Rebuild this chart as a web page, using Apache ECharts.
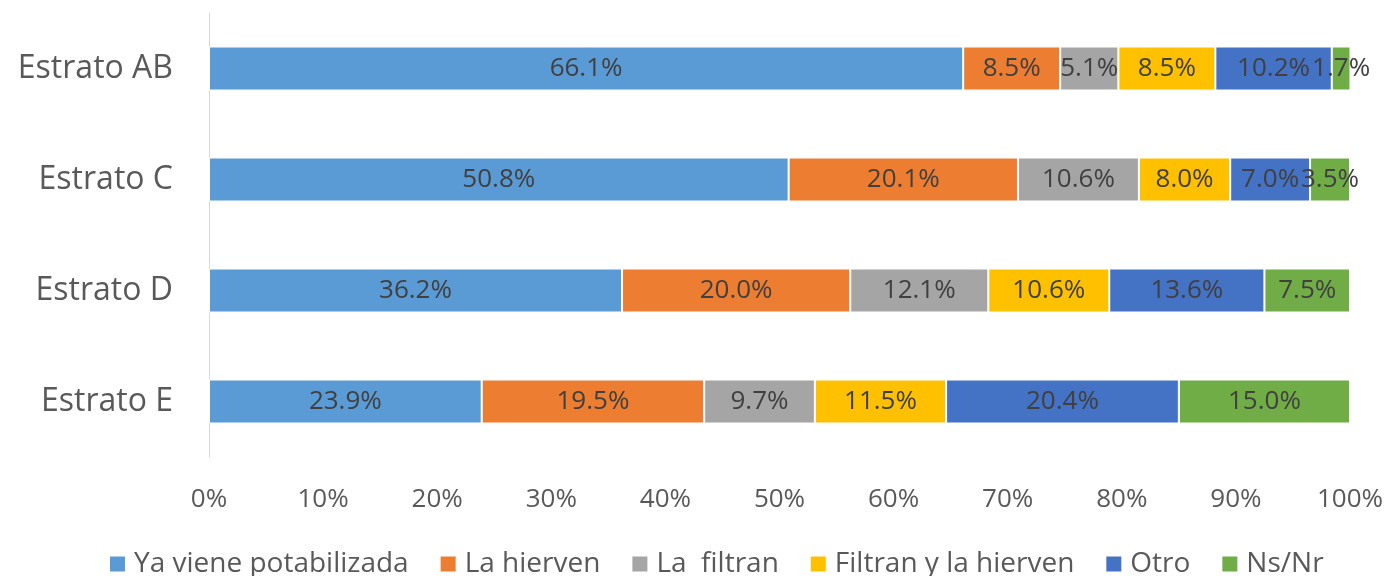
<!DOCTYPE html>
<html>
<head>
<meta charset="utf-8">
<script src="https://cdn.jsdelivr.net/npm/echarts@6/dist/echarts.min.js"></script>
<style>
  html, body { margin: 0; padding: 0; background: #fff; }
  #main { width: 1389px; height: 576px; }
</style>
</head>
<body>
<div id="main"></div>
<script>
var categories = ['Estrato AB', 'Estrato C', 'Estrato D', 'Estrato E'];
var potabilizada = [66.1, 50.8, 36.2, 23.9];
var hierven = [8.5, 20.1, 20.0, 19.5];
var filtran = [5.1, 10.6, 12.1, 9.7];
var filtranHierven = [8.5, 8.0, 10.6, 11.5];
var otro = [10.2, 7.0, 13.6, 20.4];
var nsnr = [1.7, 3.5, 7.5, 15.0];
var xTicks = [0, 10, 20, 30, 40, 50, 60, 70, 80, 90, 100];

(function() {
    var chartDom = document.getElementById('main');
    var myChart = echarts.init(chartDom);
    var font = 'Open Sans, Noto Sans, sans-serif';

    function serie(name, data, color) {
        return {
            name: name,
            type: 'bar',
            stack: 'total',
            barWidth: 44,
            data: data,
            itemStyle: { color: color, borderColor: '#ffffff', borderWidth: 1 },
            label: {
                show: true,
                position: 'inside',
                formatter: function(p) { return p.value.toFixed(1) + '%'; },
                color: '#404040',
                fontSize: 26,
                fontFamily: font
            }
        };
    }

    var option = {
        animation: false,
        grid: { left: 209, right: 39, top: 13, bottom: 119 },
        legend: {
            bottom: -7,
            left: 103,
            itemWidth: 17,
            itemHeight: 17,
            itemGap: 30,
            icon: 'rect',
            textStyle: { color: '#595959', fontSize: 28, fontFamily: font, padding: [0, 0, 0, 3] },
            data: ['Ya viene potabilizada', 'La hierven', 'La  filtran', 'Filtran y la hierven', 'Otro', 'Ns/Nr']
        },
        xAxis: {
            type: 'value',
            min: xTicks[0],
            max: xTicks[xTicks.length - 1],
            interval: 10,
            axisLine: { show: false },
            axisTick: { show: false },
            splitLine: { show: false },
            axisLabel: {
                margin: 30,
                color: '#595959',
                fontSize: 26,
                fontFamily: font,
                formatter: '{value}%'
            }
        },
        yAxis: {
            type: 'category',
            inverse: true,
            data: categories,
            axisLine: { show: true, lineStyle: { color: '#d9d9d9', width: 1 } },
            axisTick: { show: false },
            axisLabel: {
                margin: 36,
                color: '#595959',
                fontSize: 32,
                fontFamily: font
            }
        },
        series: [
            serie('Ya viene potabilizada', potabilizada, '#5b9bd5'),
            serie('La hierven', hierven, '#ed7d31'),
            serie('La  filtran', filtran, '#a5a5a5'),
            serie('Filtran y la hierven', filtranHierven, '#ffc000'),
            serie('Otro', otro, '#4472c4'),
            serie('Ns/Nr', nsnr, '#70ad47')
        ]
    };

    myChart.setOption(option);
})();
</script>
</body>
</html>
